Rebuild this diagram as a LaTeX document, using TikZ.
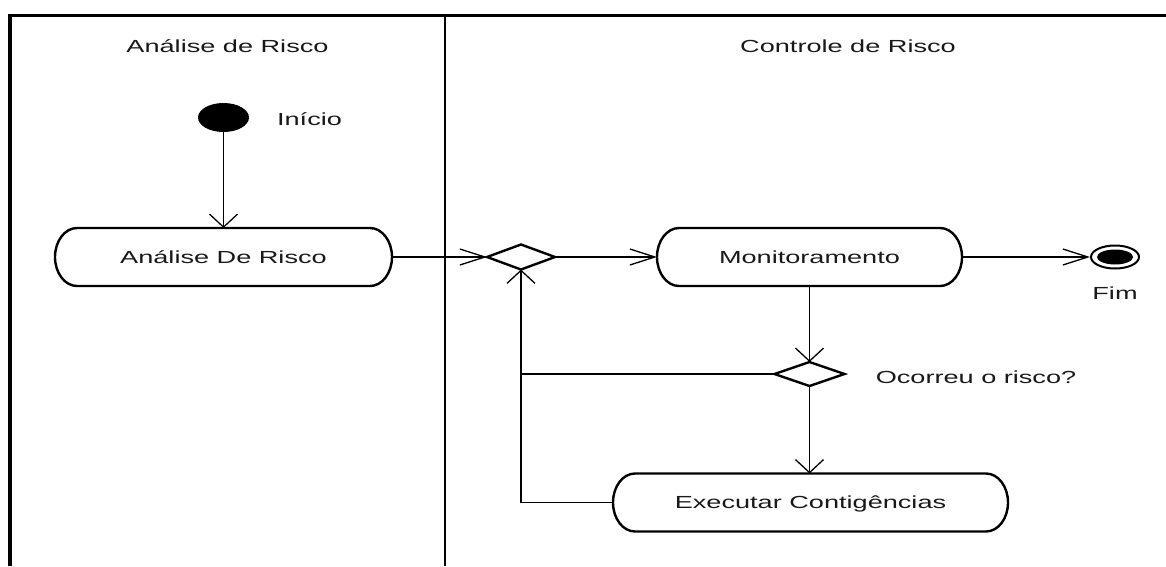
\documentclass[tikz,border=0pt]{standalone}
\usepackage{fontspec}
\setmainfont{Liberation Sans}
\newfontfamily\lanefont[FakeStretch=1.55]{Liberation Sans}
\usetikzlibrary{arrows.meta,shapes.geometric}
\begin{document}
\begin{tikzpicture}[x=1pt,y=1pt,
  txt/.style={font=\lanefont\fontsize{17.5}{20}\selectfont, inner sep=0pt, text=black!90},
  lbl/.style={txt, anchor=base},
  act/.style={txt, rectangle, outer sep=0pt, minimum height=58pt, text height=12pt, text depth=0pt},
  pill/.style={line width=2.4pt, line join=round},
  decision/.style={diamond, draw, line width=2.4pt, inner sep=0pt, outer sep=0pt, minimum width=68pt, minimum height=25pt},
  flow/.style={line width=1.3pt},
  harr/.style={flow, -{Straight Barb[length=25pt,width=16pt]}},
  varr/.style={flow, -{Straight Barb[length=13pt,width=28pt]}}
]
% page and its white background
\useasboundingbox (0,0) rectangle (1166,-566);
\fill[white] (0,0) rectangle (1166,-566);

% swimlane frame
\draw[line width=4pt] (10,-566) -- (10,-14);
\draw[line width=3pt] (8,-15.5) -- (1166,-15.5);
\draw[line width=2.5pt] (445,-15.5) -- (445,-566);

% lane titles
\node[lbl] (lane1) at (227.5,-52.5) {Análise de Risco};
\node[lbl] (lane2) at (848,-52) {Controle de Risco};

% initial node
\node[ellipse, fill=black, inner sep=0pt, minimum width=51pt, minimum height=29pt] (start) at (223.5,-117.5) {};
\node[lbl] (startlbl) at (309.5,-125.5) {Início};

% activities
\node[act, minimum width=337pt] (a1) at (223.5,-257) {Análise De Risco};
\node[act, minimum width=305pt] (mon) at (809.5,-257) {Monitoramento};
\node[act, minimum width=395pt] (exe) at (810.5,-502.5) {Executar Contigências};
\foreach \n in {a1,mon,exe}
  \draw[pill] ([xshift=22pt]\n.north west) -- ([xshift=-22pt]\n.north east)
    arc[start angle=90, end angle=-90, x radius=22pt, y radius=29pt]
    -- ([xshift=22pt]\n.south west)
    arc[start angle=270, end angle=90, x radius=22pt, y radius=29pt] -- cycle;

% decisions
\node[decision] (d1) at (521,-257) {};
\node[decision, minimum width=70pt, minimum height=24pt] (d2) at (809.5,-374) {};
\node[lbl] (q) at (976,-383) {Ocorreu o risco?};

% final node
\node[ellipse, draw, line width=2pt, inner sep=0pt, minimum width=48pt, minimum height=23pt] (fin) at (1115,-257) {};
\node[ellipse, fill=black, inner sep=0pt, minimum width=36pt, minimum height=15pt] (findot) at (fin) {};
\node[lbl] (finlbl) at (1115,-299) {Fim};

% control flow
\draw[varr] (start.south) -- (start.south |- a1.north);
\draw[harr] (a1.east) -- (d1.west);
\draw[harr] (d1.east) -- (mon.west);
\draw[harr] (mon.east) -- (fin.west);
\draw[varr] (mon.south) -- (d2.north);
\draw[varr] (d2.south) -- (d2.south |- exe.north);
\draw[flow] (d2.west) -- (d1.south |- d2.west);
\draw[varr] (exe.west) -- (d1.south |- exe.west) -- (d1.south);
\end{tikzpicture}
\end{document}
